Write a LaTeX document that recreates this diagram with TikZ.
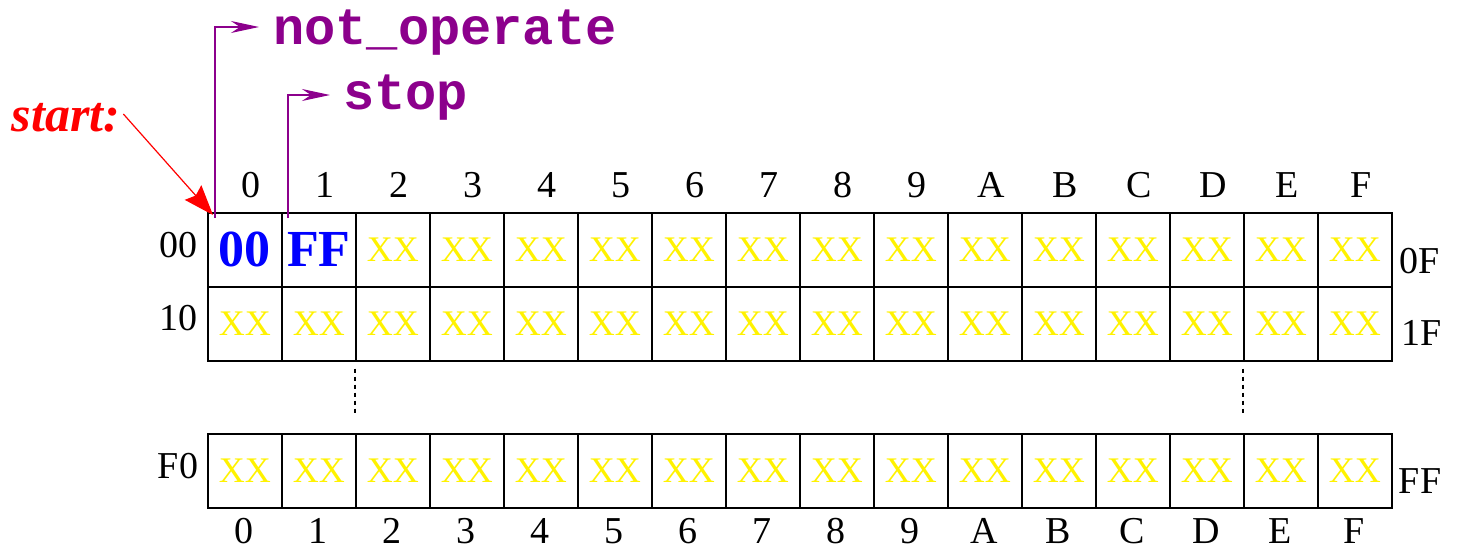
\documentclass[tikz,border=0pt]{standalone}
\usepackage{fontspec}
\setmainfont{Liberation Serif}
\setmonofont{Liberation Mono}
\usetikzlibrary{arrows.meta}
\definecolor{ptrpurple}{RGB}{140,0,140}

\begin{document}
\begin{tikzpicture}[x=1pt,y=-1pt,
    cell/.style={draw,line width=1.6pt,minimum width=74pt,minimum height=74pt,
        inner sep=0pt,anchor=north west,text=yellow,font=\fontsize{36}{36}\selectfont},
    memval/.style={cell,text=blue,font=\fontsize{52}{52}\selectfont\bfseries},
    idx/.style={inner sep=0pt,font=\fontsize{38}{38}\selectfont},
    sym/.style={inner sep=0pt,anchor=base west,text=ptrpurple,font=\fontsize{52}{52}\selectfont\ttfamily\bfseries},
    ptr/.style={ptrpurple,line width=1.2pt,-{Stealth[length=28pt,width=12pt,inset=9pt]}},
    skip/.style={line width=1.8pt,dash pattern=on 4pt off 4pt}]
    \useasboundingbox (0,0) rectangle (1457,549);
    % memory cells
    \node[memval] (m0-0) at (207,212) {00};
    \node[memval] (m0-1) at (281,212) {FF};
    \foreach \c in {2,...,15}
        \node[cell] (m0-\c) at ({207+74*\c},212) {XX};
    \foreach \r/\y in {1/286,2/433}
        \foreach \c in {0,...,15}
            \node[cell] (m\r-\c) at ({207+74*\c},\y) {XX};
    % column numbers
    \foreach \h [count=\i from 0] in {0,1,2,3,4,5,6,7,8,9,A,B,C,D,E,F}{
        \node[idx] (ct\i) at ({251+74*\i},185) {\h};
        \node[idx] (cb\i) at ({244+74*\i},531) {\h};
    }
    % row addresses
    \node[idx] (rl0) at (178,245) {00};
    \node[idx] (rl1) at (178,318) {10};
    \node[idx] (rl2) at (178,466) {F0};
    \node[idx] (rr0) at (1420,261) {0F};
    \node[idx] (rr1) at (1422,333) {1F};
    \node[idx] (rr2) at (1420,481) {FF};
    % skipped rows
    \draw[skip] ([yshift=-7pt]m1-2.south west) -- ([yshift=-52pt]m1-2.south west);
    \draw[skip] ([yshift=-7pt]m1-14.south west) -- ([yshift=-52pt]m1-14.south west);
    % labels
    \node[text=red,inner sep=0pt,font=\fontsize{50}{50}\selectfont\bfseries\itshape] (start) at (66,118) {start:};
    \coordinate (startend) at (213,215);
    \draw[red,line width=1.2pt,-{Stealth[length=30pt,width=22pt,inset=4pt]}] ([xshift=3pt,yshift=4pt]start.east) -- (startend);
    \node[sym] (nop) at (273,44) {not\_operate};
    \node[sym] (stop) at (343,109) {stop};
    \coordinate (nopfoot) at (215,218);
    \coordinate (stopfoot) at (288,218);
    \draw[ptr] (nopfoot) |- ([xshift=-14pt]nop.west |- 0,27);
    \draw[ptr] (stopfoot) |- ([xshift=-13pt]stop.west |- 0,95);
\end{tikzpicture}
\end{document}
